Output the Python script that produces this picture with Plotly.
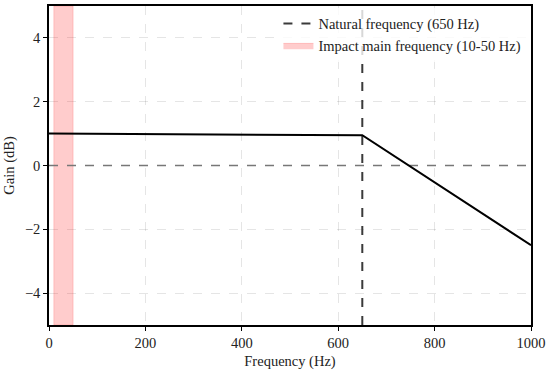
import plotly.graph_objects as go

freq = [0, 200, 400, 650, 1000]
gain = [1.0, 0.99, 0.97, 0.95, -2.5]
natural_freq = 650
impact_band = [10, 50]
x_range = [0, 1000]
y_range = [-5, 5]
x_ticks = [0, 200, 400, 600, 800, 1000]
y_ticks = [-4, -2, 0, 2, 4]

font = "Liberation Serif"
fs = 14.5

fig = go.Figure()

fig.add_trace(go.Scatter(
    x=[impact_band[0], impact_band[1], impact_band[1], impact_band[0], impact_band[0]],
    y=[y_range[0], y_range[0], y_range[1], y_range[1], y_range[0]],
    fill="toself", fillcolor="rgba(255,0,0,0.2)", mode="lines",
    line=dict(width=0.8, color="rgba(255,0,0,0.2)"),
    name="Impact main frequency (10-50 Hz)", hoverinfo="skip"))

fig.add_trace(go.Scatter(
    x=x_range, y=[0, 0], mode="lines",
    line=dict(color="#777777", width=1.6, dash="dash"),
    showlegend=False, hoverinfo="skip"))

fig.add_trace(go.Scatter(
    x=[natural_freq, natural_freq], y=y_range, mode="lines",
    line=dict(color="#3a3a3a", width=2, dash="dash"),
    name="Natural frequency (650 Hz)"))

fig.add_trace(go.Scatter(
    x=freq, y=gain, mode="lines",
    line=dict(color="black", width=2),
    showlegend=False))

axis_common = dict(
    showline=True, linecolor="black", linewidth=1.5, mirror=True,
    ticks="outside", ticklen=4, tickwidth=1, tickcolor="black",
    showgrid=True, gridcolor="rgba(0,0,0,0.1)", griddash="dash", gridwidth=1,
    zeroline=False, tickfont=dict(family=font, size=fs, color="#222"),
)

fig.update_xaxes(range=x_range, tickvals=x_ticks,
                 title=dict(text="Frequency (Hz)", font=dict(family=font, size=fs, color="#222"), standoff=6),
                 **axis_common)
fig.update_yaxes(range=y_range, tickvals=y_ticks, tickformat="d",
                 title=dict(text="Gain (dB)", font=dict(family=font, size=fs, color="#222"), standoff=7),
                 **axis_common)

fig.update_layout(
    width=550, height=372,
    margin=dict(l=49, r=17, t=4, b=47),
    plot_bgcolor="white", paper_bgcolor="white",
    font=dict(family=font, size=fs, color="#222"),
    legend=dict(x=0.476, y=0.995, xanchor="left", yanchor="top",
                bgcolor="rgba(255,255,255,0.8)", borderwidth=0,
                font=dict(family=font, size=fs), traceorder="reversed", tracegroupgap=0),
    showlegend=True,
)

fig.write_html("out.html", config={"displayModeBar": False},
               post_script="document.body.style.margin='0';")
